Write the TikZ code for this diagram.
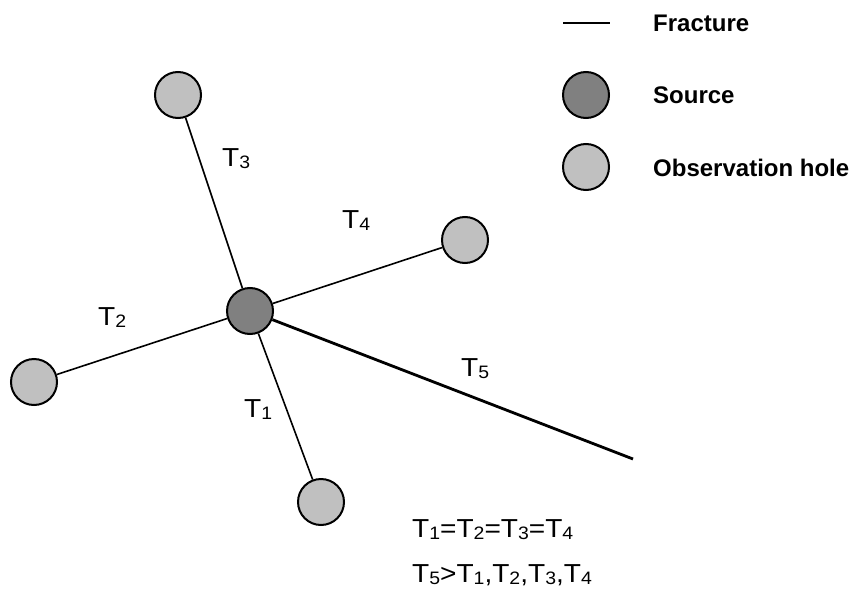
\documentclass[tikz,border=0pt]{standalone}
\usepackage{fontspec}
\setmainfont{Liberation Sans}
\newfontfamily\lblfont{Liberation Sans}[FakeStretch=1.08]
\definecolor{srcgray}{HTML}{808080}
\definecolor{holegray}{HTML}{C0C0C0}
\newcommand{\subdig}[1]{{\fontsize{18}{18}\selectfont\raisebox{-2.5pt}{#1}}}
\begin{document}
\begin{tikzpicture}[x=1pt,y=-1pt,
  hole/.style={circle,draw=black,line width=2pt,fill=holegray,minimum size=46pt,inner sep=0pt},
  srcnode/.style={circle,draw=black,line width=2pt,fill=srcgray,minimum size=46pt,inner sep=0pt},
  frac/.style={line width=1.6pt},
  bigfrac/.style={line width=2.8pt},
  lbl/.style={font=\lblfont\fontsize{26}{30}\selectfont,inner sep=0pt,anchor=base west},
  leg/.style={font=\fontsize{24}{28}\selectfont\bfseries,inner sep=0pt,anchor=west}]
\useasboundingbox (0,0) rectangle (850,596);
\node[srcnode] (src) at (250,311) {};
\node[hole] (h3) at (178,95) {};
\node[hole] (h4) at (465,240) {};
\node[hole] (h2) at (34,382) {};
\node[hole] (h1) at (321,502) {};
\coordinate (e5) at (633,459);
\draw[frac] (src) -- (h3);
\draw[frac] (src) -- (h4);
\draw[frac] (src) -- (h2);
\draw[frac] (src) -- (h1);
\draw[bigfrac] (src) -- (e5);
\node[lbl] (t3) at (222,166) {T\subdig{3}};
\node[lbl] (t4) at (342,228) {T\subdig{4}};
\node[lbl] (t2) at (98,325) {T\subdig{2}};
\node[lbl] (t5) at (461,376) {T\subdig{5}};
\node[lbl] (t1) at (244,417) {T\subdig{1}};
\node[lbl] (eq1) at (412,537) {T\subdig{1}=T\subdig{2}=T\subdig{3}=T\subdig{4}};
\node[lbl] (eq2) at (412,582) {T\subdig{5}>T\subdig{1},T\subdig{2},T\subdig{3},T\subdig{4}};
% legend
\coordinate (la) at (563,23);
\coordinate (lb) at (610,23);
\draw[line width=2pt] (la) -- (lb);
\node[srcnode] (ls) at (586,95) {};
\node[hole] (lh) at (586,167) {};
\node[leg] (lt1) at (653,23) {Fracture};
\node[leg] (lt2) at (653,95) {Source};
\node[leg] (lt3) at (653,168) {Observation hole};
\end{tikzpicture}
\end{document}
